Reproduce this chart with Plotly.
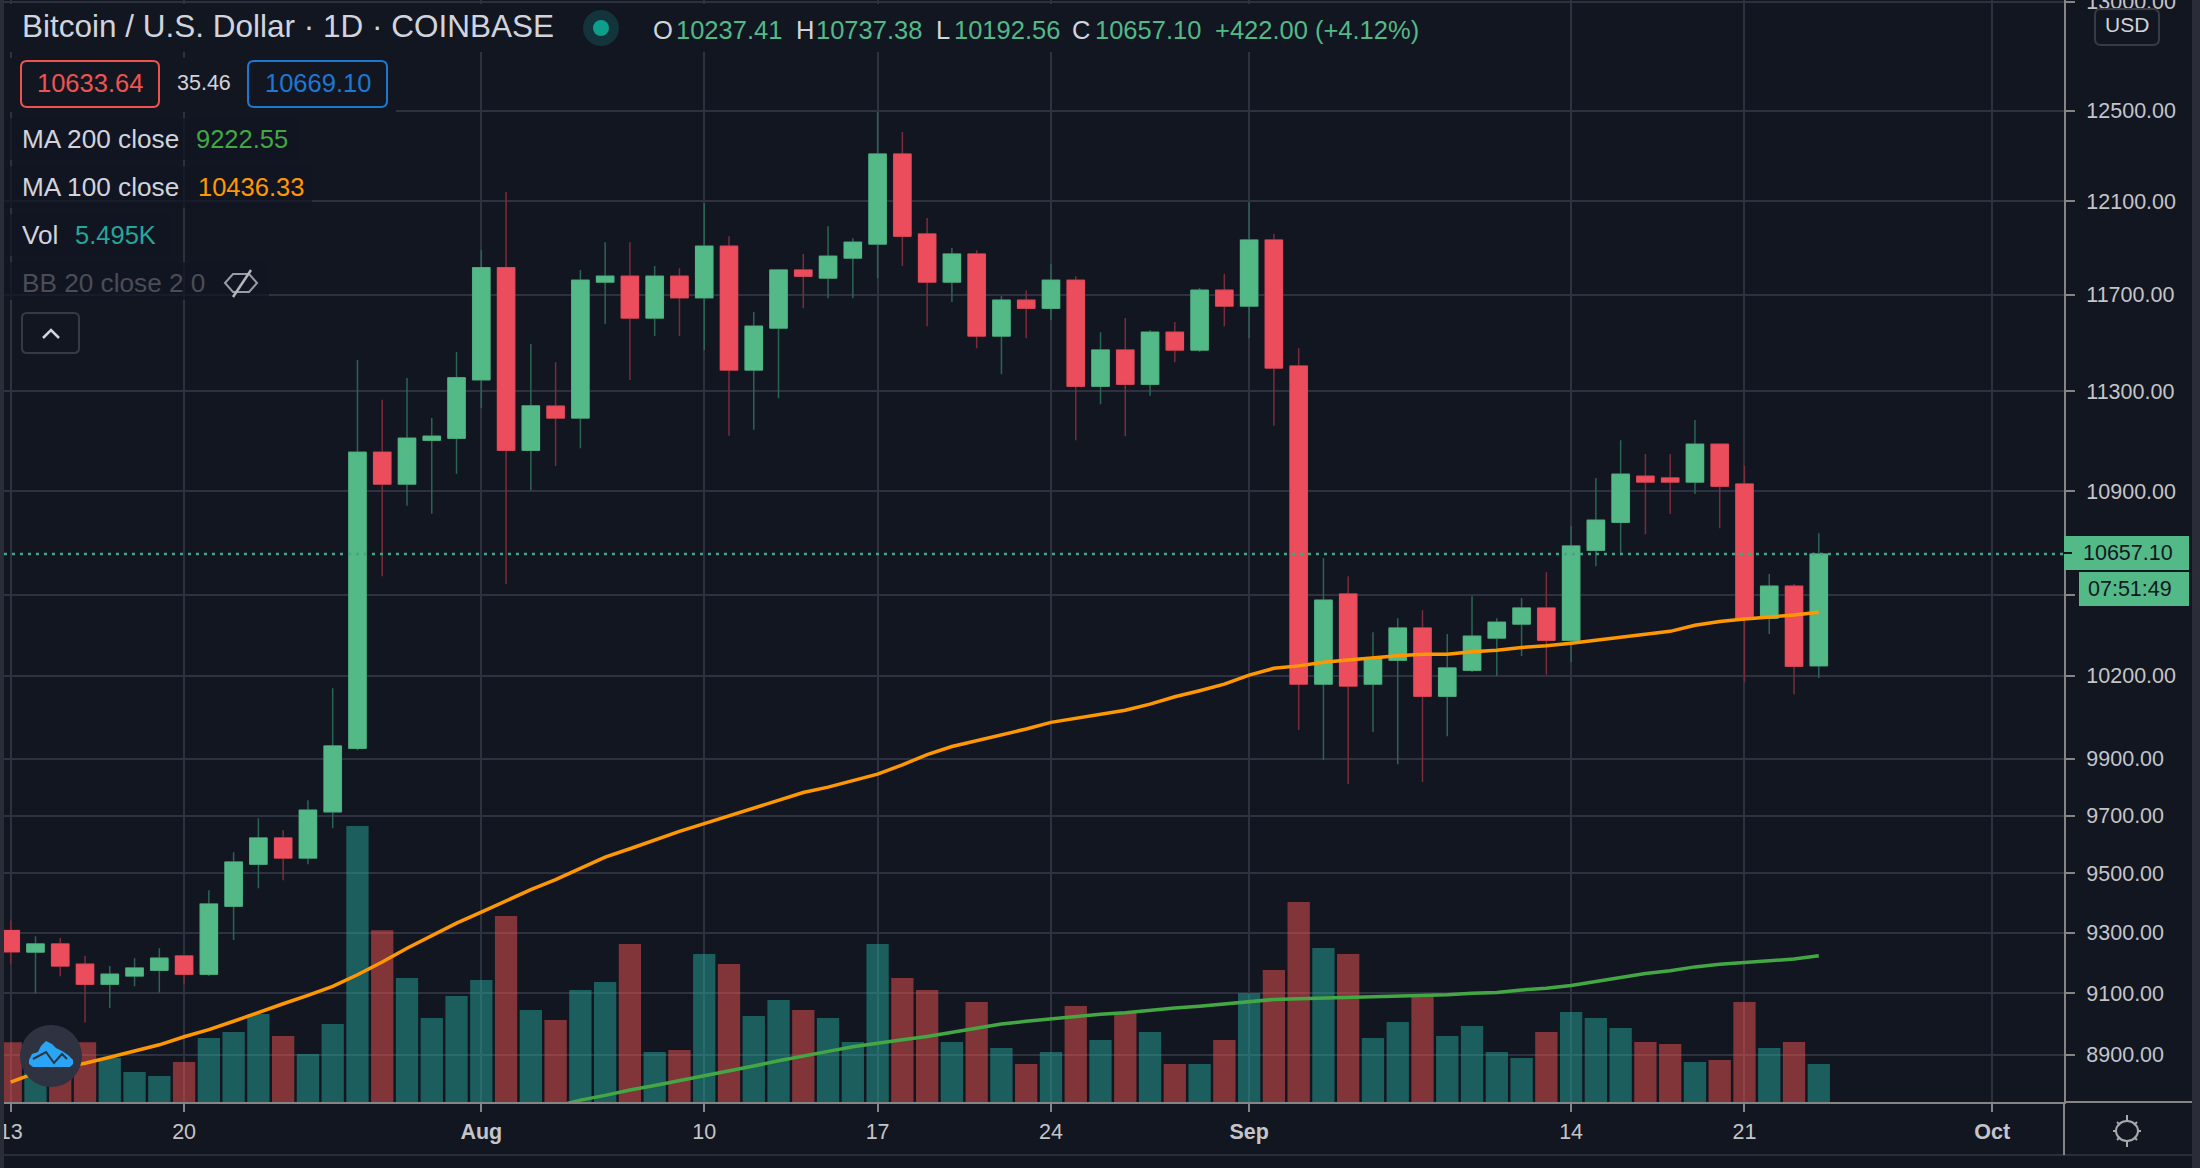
import pandas as pd
import plotly.graph_objects as go

# daily BTC/USD candles
start_date = "2020-07-13"
opens = [9307,9235,9262,9195,9129,9156,9175,9222,9162,9389,9532,9622,9553,9713,9938,11055,10929,11103,11111,11347,11814,11063,11240,11192,11753,11778,11602,11778,11687,11906,11387,11560,11804,11770,11855,11915,12307,11958,11753,11872,11527,11677,11643,11761,11321,11469,11329,11543,11469,11719,11652,11932,11403,10170,10505,10170,10258,10377,10126,10221,10340,10392,10452,10332,10672,10780,10960,10953,10937,11087,10929,10414,10535,10237.41]
highs = [9341,9288,9282,9223,9189,9215,9248,9222,9443,9573,9691,9650,9754,10155,11428,11266,11354,11192,11461,11889,12140,11494,11419,11804,11923,11923,11821,11812,12092,11949,11627,11808,11872,11992,11940,12494,12405,12027,11898,11889,11694,11719,11829,11778,11543,11602,11552,11585,11728,11787,12096,11958,11477,10642,10573,10362,10414,10444,10355,10497,10414,10490,10588,10765,10953,11103,11048,11048,11184,11087,11000,10581,10543,10737.38]
lows = [9196,9099,9155,9004,9051,9122,9102,9129,9156,9275,9450,9477,9532,9656,9931,10573,10844,10813,10970,11232,10543,10905,11000,11071,11577,11346,11527,11527,11469,11121,11145,11272,11643,11685,11685,11770,11821,11568,11669,11477,11370,11518,11593,11103,11248,11119,11282,11419,11461,11568,11518,11161,10003,9896,9811,9996,9881,9818,9981,10214,10200,10273,10204,10251,10611,10661,10734,10812,10890,10757,10177,10355,10133,10192.56]
closes = [9236,9262,9189,9129,9162,9182,9215,9162,9396,9539,9622,9553,9719,9946,11055,10929,11111,11119,11355,11814,11063,11241,11192,11761,11778,11602,11778,11687,11906,11387,11568,11804,11778,11863,11923,12307,11949,11753,11872,11527,11677,11643,11761,11321,11469,11329,11543,11469,11719,11652,11932,11395,10170,10482,10163,10266,10377,10126,10229,10347,10399,10452,10332,10688,10788,10968,10937,10937,11087,10921,10414,10535,10236,10657.10]
ma100 = [8813,8842,8860,8873,8892,8911,8932,8958,8981,9008,9037,9065,9092,9122,9160,9202,9248,9291,9332,9369,9407,9445,9479,9518,9556,9585,9616,9645,9672,9699,9726,9755,9781,9800,9822,9846,9879,9915,9944,9965,9983,10007,10031,10045,10061,10075,10097,10124,10146,10170,10203,10228,10237,10250,10259,10268,10274,10280,10280,10289,10295,10305,10311,10321,10332,10345,10355,10365,10388,10402,10411,10418,10426,10436.33]
ma200 = [None]*22 + [8736,8756,8771,8788,8802,8817,8833,8849,8864,8881,8897,8911,8926,8938,8948,8959,8973,8986,8999,9008,9016,9025,9031,9036,9044,9051,9057,9064,9071,9079,9081,9083,9085,9089,9091,9092,9094,9099,9102,9110,9116,9125,9138,9151,9164,9173,9186,9195,9200,9206,9212,9222.55]
volume = [8628,4434,4916,8628,6362,4338,3760,5784,9254,10122,12725,9544,6941,11279,39910,24823,17930,12146,15328,17641,26896,13303,11857,16195,17352,22847,7230,7519,21401,19955,12436,14749,13303,12146,8676,22847,17930,16195,8676,14460,7808,5495,7230,13882,8965,12869,10122,5495,5495,8965,15713,19087,28920,22268,21401,9254,11568,15424,9544,10990,7230,6362,10122,13014,12146,10700,8676,8387,5784,6073,14460,7808,8676,5495]

price_ticks = [13000, 12500, 12100, 11700, 11300, 10900, 10500, 10200, 9900, 9700, 9500, 9300, 9100, 8900]
price_labels = ["13000.00", "12500.00", "12100.00", "11700.00", "11300.00", "10900.00", "", "10200.00", "9900.00", "9700.00", "9500.00", "9300.00", "9100.00", "8900.00"]
date_ticks = ["2020-07-13", "2020-07-20", "2020-08-01", "2020-08-10", "2020-08-17", "2020-08-24", "2020-09-01", "2020-09-14", "2020-09-21", "2020-10-01"]
date_labels = ["13", "20", "<b>Aug</b>", "10", "17", "24", "<b>Sep</b>", "14", "21", "<b>Oct</b>"]

x_range = ["2020-07-12 17:30", "2020-10-03 21:36"]
price_range = [3.94201, 4.11424]
volume_range = [0, 159350]

BG = "#121621"
GRID = "#2e3140"
STRIP = "#2a2d38"
AXIS = "#858585"
TEXT = "#d1d4dc"
TICK_TEXT = "#c4c5c8"
UP = "#53b987"
DOWN = "#eb4d5c"
FONT = "Liberation Sans"

# page layout in pixels, everything outside the axes is placed from these
WIDTH, HEIGHT = 2200, 1168
LEFT, RIGHT, BOTTOM = 4, 2064, 1102


def fx(px):
    return (px - LEFT) / (RIGHT - LEFT)


def fy(py):
    return 1 - py / BOTTOM


def rect(x0, y0, x1, y1, fill=None, line=None, width=0):
    return dict(type="rect", xref="paper", yref="paper", layer="above",
                x0=fx(x0), x1=fx(x1), y0=fy(y0), y1=fy(y1),
                fillcolor=fill or "rgba(0,0,0,0)", line=dict(color=line or "rgba(0,0,0,0)", width=width))


def oval(cx, cy, rx, ry, fill=None, line=None, width=0):
    return dict(type="circle", xref="paper", yref="paper", layer="above",
                x0=fx(cx - rx), x1=fx(cx + rx), y0=fy(cy - ry), y1=fy(cy + ry),
                fillcolor=fill or "rgba(0,0,0,0)", line=dict(color=line or "rgba(0,0,0,0)", width=width))


def poly(points, fill=None, line=None, width=0, closed=False):
    path = "M " + " L ".join(f"{fx(a):.5f},{fy(b):.5f}" for a, b in points)
    if closed:
        path += " Z"
    return dict(type="path", xref="paper", yref="paper", layer="above", path=path,
                fillcolor=fill or "rgba(0,0,0,0)", line=dict(color=line or "rgba(0,0,0,0)", width=width))


def rounded(x0, y0, x1, y1, r, line, width=2, fill=None):
    p = (f"M {fx(x0 + r):.5f},{fy(y0):.5f} L {fx(x1 - r):.5f},{fy(y0):.5f} "
         f"Q {fx(x1):.5f},{fy(y0):.5f} {fx(x1):.5f},{fy(y0 + r):.5f} L {fx(x1):.5f},{fy(y1 - r):.5f} "
         f"Q {fx(x1):.5f},{fy(y1):.5f} {fx(x1 - r):.5f},{fy(y1):.5f} L {fx(x0 + r):.5f},{fy(y1):.5f} "
         f"Q {fx(x0):.5f},{fy(y1):.5f} {fx(x0):.5f},{fy(y1 - r):.5f} L {fx(x0):.5f},{fy(y0 + r):.5f} "
         f"Q {fx(x0):.5f},{fy(y0):.5f} {fx(x0 + r):.5f},{fy(y0):.5f} Z")
    return dict(type="path", xref="paper", yref="paper", layer="above", path=p,
                fillcolor=fill or "rgba(0,0,0,0)", line=dict(color=line, width=width))


def label(px, py, text, color=TEXT, size=25.5, anchor="left"):
    return dict(x=fx(px), y=fy(py), xref="paper", yref="paper", text=text, showarrow=False,
                xanchor=anchor, yanchor="middle", borderpad=0, align=anchor,
                font=dict(family=FONT, size=size, color=color))


dates = pd.date_range(start_date, periods=len(closes), freq="D")
body_high = [max(o, c) for o, c in zip(opens, closes)]
body_low = [min(o, c) for o, c in zip(opens, closes)]
bar_colors = ["rgba(38,166,154,0.5)" if c >= o else "rgba(239,83,80,0.5)" for o, c in zip(opens, closes)]

fig = go.Figure()

# volume sits on the bottom axis so the price traces stay on top of it
fig.add_trace(go.Bar(x=dates, y=volume, marker=dict(color=bar_colors, line_width=0), yaxis="y", name="Vol"))
fig.add_trace(go.Scatter(x=x_range, y=[closes[-1], closes[-1]], mode="lines", yaxis="y2",
                         line=dict(color="#46a581", width=2.5, dash="3px,5px"), name="Last"))
fig.add_trace(go.Scatter(x=dates, y=ma200, mode="lines", yaxis="y2", line=dict(color="#43a843", width=3.5),
                         name="MA 200 close"))
fig.add_trace(go.Scatter(x=dates, y=ma100, mode="lines", yaxis="y2", line=dict(color="#ff9800", width=3.5),
                         name="MA 100 close"))

# wicks are dimmer than the bodies, plotly has one colour per candle side so draw twice
fig.add_trace(go.Candlestick(x=dates, open=opens, high=highs, low=lows, close=closes, yaxis="y2",
                             increasing=dict(line=dict(color="#2c6454", width=1.5), fillcolor="#2c6454"),
                             decreasing=dict(line=dict(color="#7a2c3a", width=1.5), fillcolor="#7a2c3a"),
                             name="Wicks"))
fig.add_trace(go.Candlestick(x=dates, open=opens, high=body_high, low=body_low, close=closes, yaxis="y2",
                             increasing=dict(line=dict(color=UP, width=1), fillcolor=UP),
                             decreasing=dict(line=dict(color=DOWN, width=1), fillcolor=DOWN),
                             name="Bodies"))

shapes = [
    # backgrounds behind the legend rows hide the grid
    rect(4, 4, 1430, 52, fill=BG),
    rect(4, 58, 396, 112, fill=BG),
    rect(4, 118, 300, 160, fill="rgba(18,22,33,0.75)"),
    rect(4, 166, 312, 208, fill="rgba(18,22,33,0.75)"),
    rect(4, 214, 170, 256, fill="rgba(18,22,33,0.75)"),
    rect(4, 262, 269, 300, fill="rgba(18,22,33,0.75)"),
    # frame
    rect(0, 0, 4, HEIGHT, fill=STRIP),
    rect(2192, 0, WIDTH, HEIGHT, fill=STRIP),
    rect(4, 1154, 2192, 1156, fill=STRIP),
    rect(2063, 1102, 2065, 1155, fill=AXIS),
    rect(2064, 1101, 2192, 1103, fill=AXIS),
    # price boxes
    rounded(21, 61, 159, 107, 6, "#ef5350"),
    rounded(248, 61, 387, 107, 6, "#1e78d2"),
    # status dot
    oval(601, 28, 18, 18, fill="#12343a"),
    oval(601, 28, 8, 8, fill="#0e9e8c"),
    # hidden indicator eye
    poly([(225, 283), (233, 274), (249, 274), (257, 283), (249, 292), (233, 292)], line="#9a9ca3", width=2, closed=True),
    poly([(233, 297), (251, 270)], line="#b4b6bb", width=2.5),
    # collapse button
    rounded(22, 313, 79, 353, 5, "#363a45"),
    poly([(43, 338), (51, 330), (59, 338)], line=TEXT, width=2.5),
    # current price and countdown
    rect(2064, 536, 2189, 570, fill=UP),
    rect(2079, 572, 2189, 606, fill=UP),
    poly([(2064, 553), (2072, 553)], line=BG, width=2),
    # currency button, sits on top of the clipped 13000 label
    rounded(2095, 9, 2159, 45, 6, "#363a45", fill=BG),
    # logo
    oval(51, 1056, 31, 31, fill="#2f3240"),
    poly([(29, 1060), (32, 1054), (38, 1052), (41, 1046), (46, 1041), (52, 1044), (56, 1048), (62, 1051),
          (68, 1055), (73, 1060), (73, 1064), (70, 1067), (33, 1067), (29, 1064)], fill="#2aa4f4", closed=True),
    poly([(33, 1059), (46, 1052), (54, 1063), (62, 1054), (67, 1059)], line="#2f3240", width=2),
    # theme button
    oval(2127, 1131, 11, 10, line="#a8a9ad", width=2),
    poly([(2127, 1115), (2127, 1121)], line="#a8a9ad", width=2),
    poly([(2127, 1141), (2127, 1147)], line="#a8a9ad", width=2),
    poly([(2113, 1131), (2116, 1131)], line="#a8a9ad", width=2),
    poly([(2138, 1131), (2141, 1131)], line="#a8a9ad", width=2),
    poly([(2117, 1122), (2120, 1125)], line="#a8a9ad", width=2),
    poly([(2137, 1122), (2134, 1125)], line="#a8a9ad", width=2),
    poly([(2117, 1140), (2120, 1137)], line="#a8a9ad", width=2),
    poly([(2137, 1140), (2134, 1137)], line="#a8a9ad", width=2),
]

annotations = [
    label(21, 26, "Bitcoin / U.S. Dollar · 1D · COINBASE", size=31.5),
    label(652, 30, "O"), label(675, 30, "10237.41", UP),
    label(795, 30, "H"), label(815, 30, "10737.38", UP),
    label(935, 30, "L"), label(953, 30, "10192.56", UP),
    label(1071, 30, "C"), label(1094, 30, "10657.10", UP),
    label(1214, 30, "+422.00 (+4.12%)", UP),
    label(90, 83, "10633.64", "#ef5350", anchor="center"),
    label(204, 83, "35.46", TEXT, 21.5, anchor="center"),
    label(318, 83, "10669.10", "#1e78d2", anchor="center"),
    label(21, 139, "MA 200 close", size=26.2), label(195, 139, "9222.55", "#43a843"),
    label(21, 187, "MA 100 close", size=26.2), label(197, 187, "10436.33", "#ff9800"),
    label(21, 235, "Vol", size=26.2), label(74, 235, "5.495K", "#26a69a"),
    label(21, 283, "BB 20 close 2 0", "#4a4d57", 26.2),
    label(2082, 553, "10657.10", "#131722", 21.5),
    label(2087, 589, "07:51:49", "#131722", 21.5),
    label(2127, 25, "USD", TEXT, 21, anchor="center"),
]

fig.update_layout(
    width=WIDTH, height=HEIGHT, autosize=False,
    margin=dict(l=LEFT, r=WIDTH - RIGHT, t=0, b=HEIGHT - BOTTOM, pad=0, autoexpand=False),
    paper_bgcolor=BG, plot_bgcolor=BG, showlegend=False, bargap=0.1, boxgap=0.3, boxgroupgap=0,
    font=dict(family=FONT, color=TICK_TEXT, size=21.5),
    xaxis=dict(type="date", range=x_range, rangeslider=dict(visible=False), tickmode="array",
               tickvals=date_ticks, ticktext=date_labels, showgrid=True, gridcolor=GRID, gridwidth=1.5,
               showline=True, linecolor=AXIS, linewidth=2, ticks="outside", ticklen=8, tickcolor=AXIS,
               tickwidth=1.5, ticklabelstandoff=1, ticklabeloverflow="allow", zeroline=False, tickangle=0),
    yaxis=dict(range=volume_range, visible=False, showgrid=False, zeroline=False),
    yaxis2=dict(type="log", range=price_range, overlaying="y", side="right", anchor="x", tickmode="array",
                tickvals=price_ticks, ticktext=price_labels, showgrid=True, gridcolor=GRID, gridwidth=2,
                showline=True, linecolor=AXIS, linewidth=2, ticks="outside", ticklen=9, tickcolor=AXIS,
                tickwidth=2, ticklabelstandoff=7, ticklabeloverflow="allow", zeroline=False),
    shapes=shapes, annotations=annotations,
)

fig.write_html("out.html", config=dict(displayModeBar=False),
               post_script="document.body.style.margin='0';document.body.style.background='#121621';")
